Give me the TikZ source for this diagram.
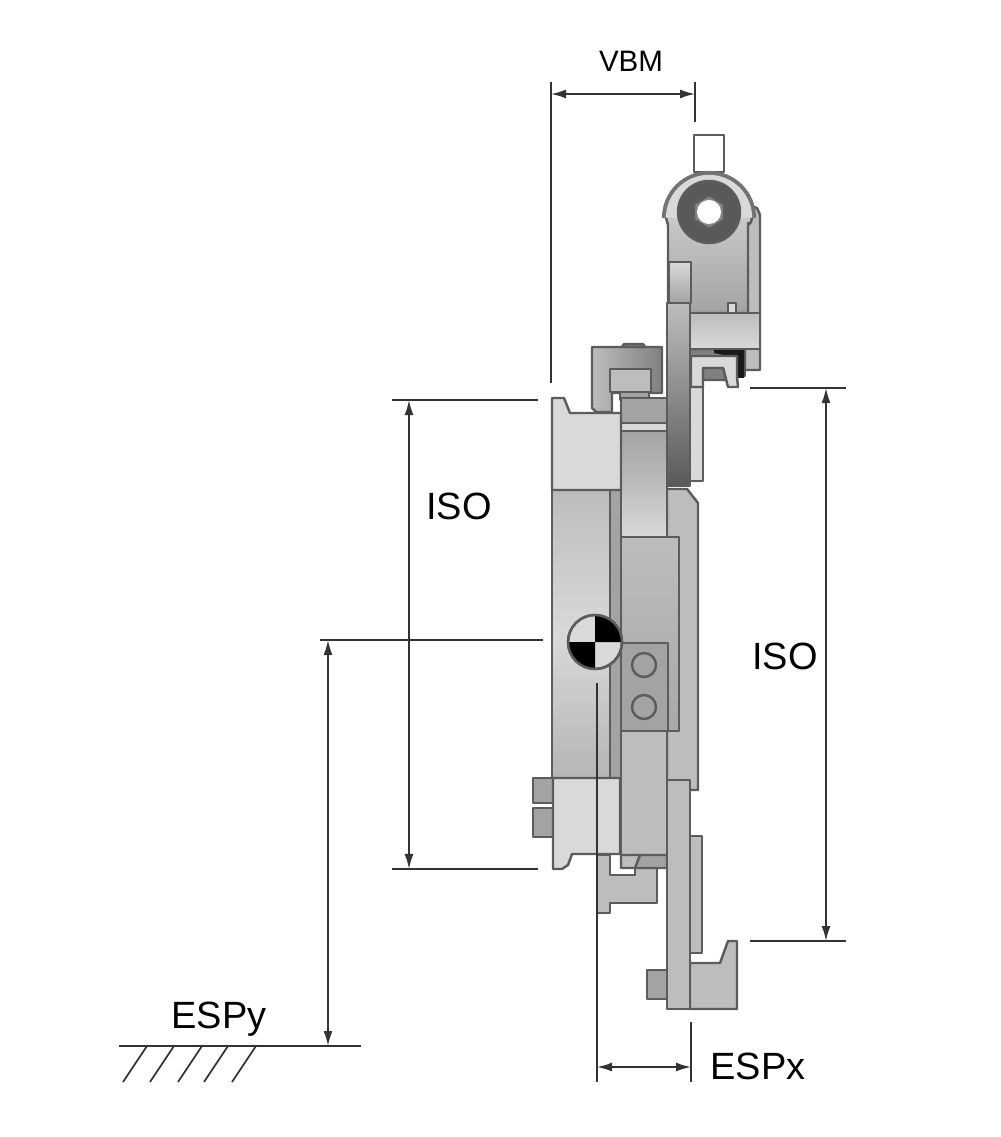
\documentclass[tikz,border=0pt]{standalone}
\usepackage{fontspec}
\setmainfont{Liberation Sans}
\usetikzlibrary{arrows.meta,positioning}
\definecolor{lightpart}{gray}{0.85}
\definecolor{midpart}{gray}{0.74}
\definecolor{darkpart}{gray}{0.64}
\definecolor{edgepart}{gray}{0.36}
\tikzset{
  part/.style={draw=edgepart, line width=0.7pt, line join=round},
  dimline/.style={draw=black!80, line width=0.5pt},
  dimarrow/.style={dimline, {Latex[length=1.5mm,width=0.9mm]}-{Latex[length=1.5mm,width=0.9mm]}},
  biglabel/.style={font=\fontsize{10.8}{13}\selectfont, inner sep=0pt, anchor=base},
  smalllabel/.style={font=\fontsize{8.4}{10}\selectfont, inner sep=0pt, anchor=base}
}
\begin{document}
\begin{tikzpicture}[x=0.01cm,y=-0.01cm]
      \useasboundingbox (0,0) rectangle (1000,1137);
      % upper roller and bracket
      \draw[part,fill=white] (694,135) rectangle (724,172);
      \draw[part,fill=midpart] (748,205) -- (757,208) -- (760,215) -- (760,370) -- (745,370) -- (745,205) -- cycle;
      \draw[part,top color=lightpart,bottom color=darkpart] (666,218) arc (180:360:43) -- (751,222) -- (748,225) -- (748,313) -- (668,313) -- (668,225) -- cycle;
      \draw[draw=black!55,line width=2.6pt] (666.5,218) arc (180:360:42.5);
      \draw[draw=lightpart,line width=3.5pt] (672,218) arc (180:360:37);
      \draw[part,fill=black!65] (709,212) circle[radius=31];
      \draw[part,fill=black!48] (709,195) -- (724,204) -- (724,220) -- (709,229) -- (694,220) -- (694,204) -- cycle;
      \draw[draw=none,fill=white] (709,212) circle[radius=12];
      \draw[part] (748,222) -- (748,313);
      \draw[part,fill=lightpart] (728,313) -- (728,303) -- (736,303) -- (736,313);
      \draw[part,top color=lightpart,bottom color=darkpart] (669,262) rectangle (691,303);
      % left upper block
      \draw[part,left color=midpart,right color=black!50] (592,347) -- (592,408) -- (596,412) -- (612,412) -- (612,393) -- (662,393) -- (662,347) -- cycle;
      \draw[part,fill=black!50] (622,347) -- (624,344) -- (643,344) -- (645,347) -- cycle;
      \draw[part,fill=midpart] (610,369) rectangle (651,392);
      \draw[part,fill=darkpart] (620,392) rectangle (649,400);
      % right housing and lock
      \draw[part,fill=midpart] (667,489) -- (687,489) -- (698,503) -- (698,790) -- (690,790) -- (667,790) -- cycle;
      \draw[part,fill=lightpart] (690,383) rectangle (703,481);
      \draw[part,fill=black!75] (690,348) rectangle (745,376);
      \draw[part,top color=black!55,bottom color=black!35] (690,345) rectangle (742,372);
      \draw[fill=black!90,draw=none] (714,348) -- (744,350) -- (744,378) -- (737,378) -- (737,358) -- (714,353) -- cycle;
      \draw[part,fill=lightpart] (691,356) -- (737,356) -- (737,377) -- (738,387) -- (728,387) -- (723,368) -- (703,368) -- (703,387) -- (691,387) -- cycle;
      \draw[part,fill=black!50] (703,368) -- (723,368) -- (726,380) -- (703,380) -- cycle;
      \draw[part,top color=midpart,bottom color=lightpart] (690,313) rectangle (760,349);
      % centre column
      \draw[part,fill=darkpart] (621,398) rectangle (667,423);
      \draw[part,fill=lightpart] (621,423) rectangle (667,431);
      \draw[part,top color=darkpart,bottom color=lightpart,middle color=midpart] (621,431) rectangle (667,537);
      % long plate
      \draw[part,top color=midpart,bottom color=black!65] (667,303) rectangle (690,486);
      % main plate
      \draw[part,fill=darkpart] (610,490) rectangle (621,778);
      \draw[part,top color=midpart,bottom color=darkpart!80!midpart] (621,537) rectangle (679,731);
      \draw[part,top color=midpart,bottom color=midpart!70!darkpart,middle color=lightpart] (552,490) rectangle (610,778);
      \draw[part,fill=lightpart] (552,398) -- (564,398) -- (570,413) -- (621,413) -- (621,490) -- (552,490) -- cycle;
      % pads with holes
      \draw[part,fill=darkpart] (621,643) rectangle (668,731);
      \draw[part] (644,665) circle[radius=12];
      \draw[part] (644,707) circle[radius=12];
      % lower centre
      \draw[part,fill=midpart] (621,731) rectangle (667,855);
      \draw[part,fill=midpart] (597,855) -- (610,855) -- (610,875) -- (635,875) -- (635,868) -- (657,868) -- (657,903) -- (610,903) -- (610,913) -- (597,913) -- cycle;
      \draw[part,fill=darkpart] (638,855) -- (667,855) -- (667,868) -- (635,868) -- cycle;
      \draw[part,fill=midpart] (621,855) -- (640,855) -- (635,868) -- (621,868) -- cycle;
      % lower left block and bolts
      \draw[part,fill=darkpart] (533,778) rectangle (553,803);
      \draw[part,fill=darkpart] (533,808) rectangle (553,837);
      \draw[part,fill=lightpart] (553,778) -- (620,778) -- (620,854) -- (572,854) -- (568,865) -- (562,869) -- (553,869) -- cycle;
      % lower plate and hook
      \draw[part,fill=darkpart] (647,970) rectangle (667,999);
      \draw[part,fill=midpart] (690,836) rectangle (702,953);
      \draw[part,fill=midpart] (690,963) -- (720,963) -- (728,941) -- (737,941) -- (737,1009) -- (690,1009) -- cycle;
      \draw[part,fill=midpart] (667,780) rectangle (690,1009);
      % centre of gravity mark
      \draw[part,fill=lightpart] (595,642) circle[radius=27];
      \fill[black] (595,642) -- (622,642) arc (0:-90:27) -- cycle;
      \fill[black] (595,642) -- (568,642) arc (180:90:27) -- cycle;
      \draw[part] (595,642) circle[radius=27];
      % named ends of the dimension lines
      \coordinate (vbmlt) at (551,82);
      \coordinate (vbmlb) at (551,383);
      \coordinate (vbmrt) at (695,82);
      \coordinate (vbmrb) at (695,122);
      \coordinate (vbma) at (551,94);
      \coordinate (vbmb) at (695,94);
      \coordinate (isolta) at (392,400);
      \coordinate (isoltb) at (538,400);
      \coordinate (isolba) at (392,869);
      \coordinate (isolbb) at (538,869);
      \coordinate (isola) at (409,400);
      \coordinate (isolb) at (409,869);
      \coordinate (isorta) at (750,388);
      \coordinate (isortb) at (846,388);
      \coordinate (isorba) at (750,941);
      \coordinate (isorbb) at (846,941);
      \coordinate (isora) at (826,388);
      \coordinate (isorb) at (826,941);
      \coordinate (espya) at (320,640);
      \coordinate (espyb) at (543,640);
      \coordinate (espyc) at (328,640);
      \coordinate (espyd) at (328,1046);
      \coordinate (grounda) at (119,1046);
      \coordinate (groundb) at (361,1046);
      \coordinate (espxa) at (597,683);
      \coordinate (espxb) at (597,1082);
      \coordinate (espxc) at (691,1022);
      \coordinate (espxd) at (691,1082);
      \coordinate (espxe) at (597,1067);
      \coordinate (espxf) at (691,1067);
      % labels
      \node[smalllabel] at (631,72) (vbm) {VBM};
      \node[biglabel] at (459,519) (isol) {ISO};
      \node[biglabel] at (785,669) (isor) {ISO};
      \node[biglabel] at (219,1028) (espy) {ESPy};
      \node[biglabel] at (758,1079) (espx) {ESPx};
      % dimension lines
      \draw[dimline] (vbmlt) -- (vbmlb);
      \draw[dimline] (vbmrt) -- (vbmrb);
      \draw[dimarrow] (vbma) -- (vbmb);
      \draw[dimline] (isolta) -- (isoltb);
      \draw[dimline] (isolba) -- (isolbb);
      \draw[dimarrow] (isola) -- (isolb);
      \draw[dimline] (isorta) -- (isortb);
      \draw[dimline] (isorba) -- (isorbb);
      \draw[dimarrow] (isora) -- (isorb);
      \draw[dimline] (espya) -- (espyb);
      \draw[dimarrow] (espyc) -- (espyd);
      \draw[dimline] (grounda) -- (groundb);
      \foreach \hx in {147,174,202,228,256}
        \draw[dimline] (\hx,1046) -- ++(-24,36);
      \draw[dimline] (espxa) -- (espxb);
      \draw[dimline] (espxc) -- (espxd);
      \draw[dimarrow] (espxe) -- (espxf);
      \end{tikzpicture}
\end{document}
